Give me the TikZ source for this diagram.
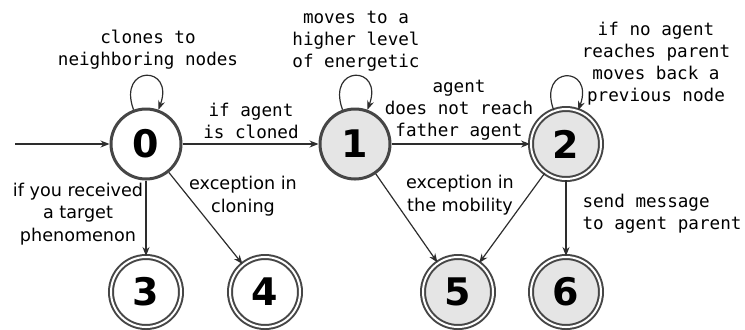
\documentclass[tikz,border=0pt]{standalone}
\usepackage{fontspec}
\setmainfont{DejaVu Sans}
\setmonofont{DejaVu Sans Mono}
\usepackage{tikz}
\usetikzlibrary{positioning,arrows.meta}
\definecolor{RingGray}{RGB}{70,70,70}
\definecolor{BusyFill}{RGB}{229,229,229}
\definecolor{WireGray}{RGB}{45,45,45}
\tikzset{st/.style={circle,draw=RingGray,fill=white,line width=1.5pt,minimum size=35pt,inner sep=0pt,font=\bfseries\fontsize{19}{19}\selectfont}, done/.style={st,double=white,double distance=1pt,line width=1pt}, busy/.style={fill=BusyFill}, tr/.style={draw=WireGray,line width=0.6pt,-{Stealth[length=4.5pt,width=3.5pt]}}, mono/.style={font=\ttfamily\fontsize{8.8}{11}\selectfont,align=center,inner sep=0pt}, plain/.style={font=\fontsize{8.8}{11.2}\selectfont,align=center,inner sep=0pt}}

\begin{document}
\begin{tikzpicture}[x=0.5pt,y=0.5pt]
\useasboundingbox (0,0) rectangle (745,-329);
\coordinate (in) at (15,-144);
\node[st] (q0) at (146,-144) {0};
\node[st,busy] (q1) at (355,-144) {1};
\node[done,busy] (q2) at (566,-144) {2};
\node[done] (q3) at (146,-292) {3};
\node[done] (q4) at (265,-292) {4};
\node[done,busy] (q5) at (458,-292) {5};
\node[done,busy] (q6) at (566,-292) {6};
\draw[tr] (in) -- (q0);
\draw[tr] (q0) -- (q1);
\draw[tr] (q1) -- (q2);
\draw[tr] (q0) -- (q3);
\draw[tr] (q0) -- (q4);
\draw[tr] (q1) -- (q5);
\draw[tr] (q2) -- (q5);
\draw[tr] (q2) -- (q6);
\draw[tr] (q0) to[out=110,in=70,distance=24pt] (q0);
\draw[tr] (q1) to[out=110,in=70,distance=24pt] (q1);
\draw[tr] (q2) to[out=110,in=70,distance=24pt] (q2);
% labels
\node[mono] (l00) at (148,-50) {clones to\\neighboring nodes};
\node[mono] (l11) at (356,-41) {moves to a\\higher level\\of energetic};
\node[mono] (l22) at (656,-63.5) {if no agent\\reaches parent\\moves back a\\previous node};
\node[mono] (l01) at (251,-121) {if agent\\is cloned};
\node[mono] (l12) at (459,-110) {agent\\does not reach\\father agent};
\node[plain] (l03) at (78,-214) {if you received\\a target\\phenomenon};
\node[plain] (l04) at (243,-196) {exception in\\cloning};
\node[plain] (l15) at (460,-195) {exception in\\the mobility};
\node[mono,align=left] (l26) at (662,-214) {send message\\to agent parent};
\end{tikzpicture}
\end{document}
